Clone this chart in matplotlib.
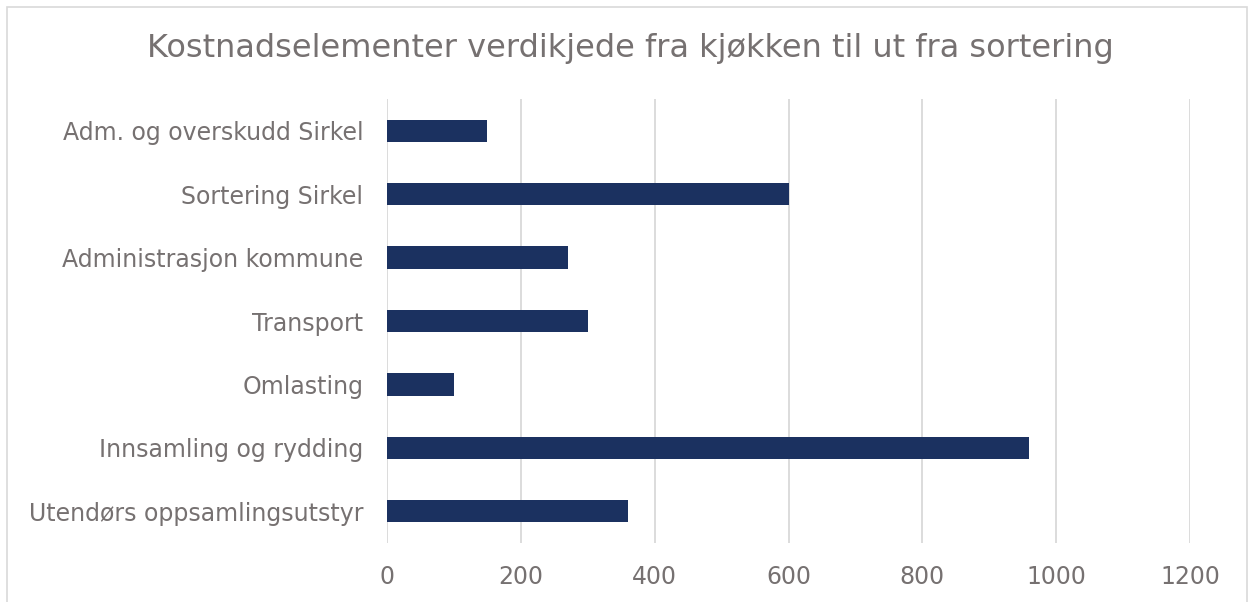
import matplotlib.pyplot as plt
from matplotlib.patches import Rectangle

# Data
categories = ['Utendørs oppsamlingsutstyr', 'Innsamling og rydding', 'Omlasting',
              'Transport', 'Administrasjon kommune', 'Sortering Sirkel',
              'Adm. og overskudd Sirkel']
values = [360, 960, 100, 300, 270, 600, 150]
x_ticks = [0, 200, 400, 600, 800, 1000, 1200]
title = 'Kostnadselementer verdikjede fra kjøkken til ut fra sortering'

text_color = '#767171'
bar_color = '#1B3160'
grid_color = '#D9D9D9'

fig = plt.figure(figsize=(12.53, 6.02), dpi=100)
ax = fig.add_axes([0.3089, 0.098, 0.6408, 0.7375])

ax.barh(range(len(categories)), values, height=0.35, color=bar_color, zorder=3)

ax.set_xlim(0, 1200)
ax.set_ylim(-0.5, len(categories) - 0.5)
ax.set_xticks(x_ticks)
ax.set_xticklabels([str(t) for t in x_ticks], fontsize=17, color=text_color)
ax.set_yticks(range(len(categories)))
ax.set_yticklabels(categories, fontsize=17, color=text_color)
ax.tick_params(axis='both', length=0)
ax.tick_params(axis='y', pad=17)
ax.tick_params(axis='x', pad=16)

ax.grid(axis='x', color=grid_color, linewidth=1.3, zorder=0)
for s in ax.spines.values():
    s.set_visible(False)

fig.text(0.503, 0.92, title, ha='center', va='center', fontsize=23, color=text_color)

# light frame around the chart area
fig.patches.append(Rectangle((7 / 1253, -0.05), 1240 / 1253, 1 - 7 / 602 + 0.05,
                             transform=fig.transFigure, fill=False,
                             edgecolor='#D9D9D9', linewidth=1.2))

plt.savefig('out.png', dpi=100, facecolor='white')
